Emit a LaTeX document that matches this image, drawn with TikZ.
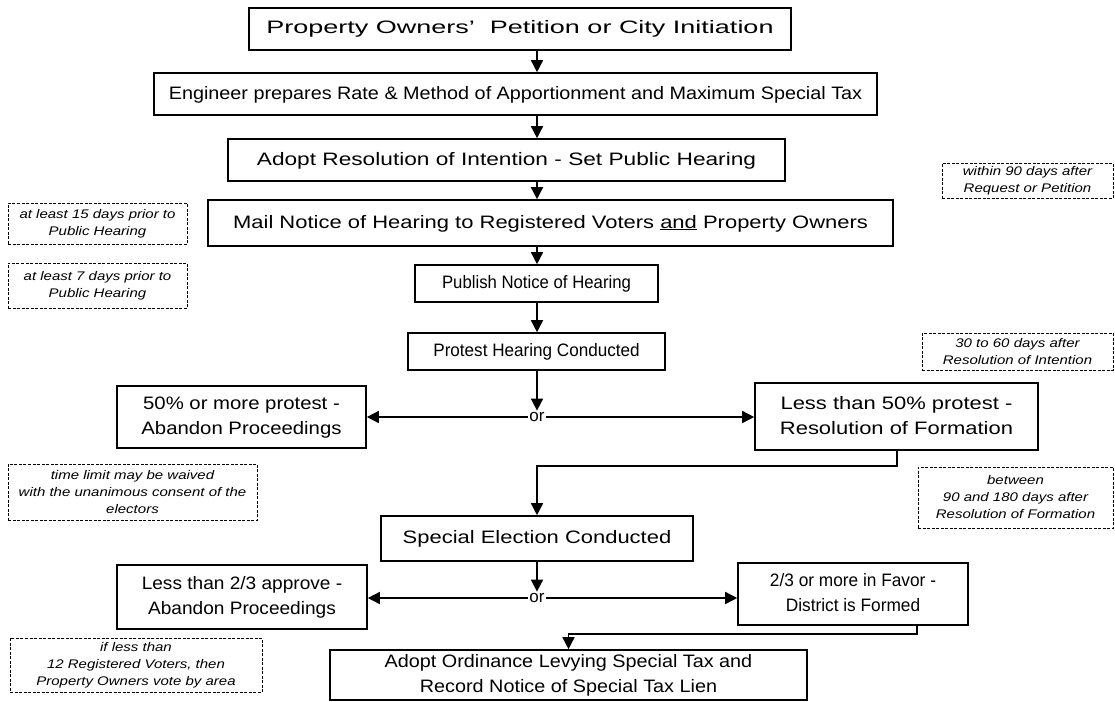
\documentclass[tikz,border=0pt]{standalone}
\usepackage{fontspec}
\usepackage{graphicx}
\setmainfont{Liberation Sans}
\newfontfamily\notefont{Liberation Sans}[FakeStretch=1.2]
\usetikzlibrary{arrows.meta}
\newcommand\sx[2]{\scalebox{#1}[1]{\begin{tabular}{@{}c@{}}#2\end{tabular}}}
\begin{document}
\begin{tikzpicture}[x=1pt,y=-1pt,
  box/.style={draw, line width=1.6pt, inner sep=0pt, align=center,
    font=\fontsize{18}{25}\selectfont},
  note/.style={draw, line width=0.6pt, dash pattern=on 3pt off 1.5pt,
    inner sep=0pt, align=center, font=\notefont\itshape\fontsize{12.5}{17}\selectfont},
  arr/.style={-{Triangle[width=12pt,length=12pt]}, line width=1.5pt},
  ortext/.style={inner sep=1.5pt, font=\fontsize{17}{18}\selectfont}]
\useasboundingbox (0,0) rectangle (1115,701);
\coordinate (sp) at (537,0);
% main boxes
\node[box, minimum width=542pt, minimum height=42pt] (b1) at (520,29) {\sx{1.5}{Property Owners'\ \ Petition or City Initiation}};
\node[box, minimum width=723pt, minimum height=42pt] (b2) at (515.5,94) {\sx{1.1}{Engineer prepares Rate \& Method of Apportionment and Maximum Special Tax}};
\node[box, minimum width=557pt, minimum height=42pt] (b3) at (506.5,160) {\sx{1.26}{Adopt Resolution of Intention - Set Public Hearing}};
\node[box, minimum width=685pt, minimum height=46pt] (b4) at (550.5,223) {\sx{1.22}{Mail Notice of Hearing to Registered Voters \underline{and} Property Owners}};
\node[box, minimum width=243pt, minimum height=37pt] (b5) at (536.5,283.5) {\sx{0.93}{Publish Notice of Hearing}};
\node[box, minimum width=257pt, minimum height=37pt] (b6) at (536.5,351.5) {\sx{0.95}{Protest Hearing Conducted}};
\node[box, minimum width=249pt, minimum height=62pt] (b7) at (241.5,417) {\sx{1.13}{50\% or more protest -\\Abandon Proceedings}};
\node[box, minimum width=283pt, minimum height=67pt] (b8) at (896.5,416.5) {\sx{1.22}{Less than 50\% protest -\\Resolution of Formation}};
\node[box, minimum width=312pt, minimum height=45pt] (b9) at (537,538.5) {\sx{1.22}{Special Election Conducted}};
\node[box, minimum width=250pt, minimum height=64pt] (b10) at (242,597) {\sx{1.06}{Less than 2/3 approve -\\Abandon Proceedings}};
\node[box, minimum width=230pt, minimum height=62pt] (b11) at (853,594) {\sx{0.96}{2/3 or more in Favor -\\District is Formed}};
\node[box, minimum width=477pt, minimum height=48pt] (b12) at (568.5,675) {\sx{1.1}{Adopt Ordinance Levying Special Tax and\\Record Notice of Special Tax Lien}};
% notes
\node[note, minimum width=171pt, minimum height=35pt] (n1) at (1027.5,180.5) {within 90 days after\\Request or Petition};
\node[note, minimum width=179pt, minimum height=41pt] (n2) at (97.5,223.5) {at least 15 days prior to\\Public Hearing};
\node[note, minimum width=179pt, minimum height=45pt] (n3) at (97.5,285.5) {at least 7 days prior to\\Public Hearing};
\node[note, minimum width=191pt, minimum height=37pt] (n4) at (1017.5,351.5) {30 to 60 days after\\Resolution of Intention};
\node[note, minimum width=249pt, minimum height=56pt] (n5) at (132.5,492) {time limit may be waived\\with the unanimous consent of the\\electors};
\node[note, minimum width=195pt, minimum height=61pt] (n6) at (1015.5,497.5) {between\\90 and 180 days after\\Resolution of Formation};
\node[note, minimum width=252pt, minimum height=54pt] (n7) at (136,665) {if less than\\12 Registered Voters, then\\Property Owners vote by area};
% or nodes
\node[ortext] (or1) at (537,417) {or};
\node[ortext] (or2) at (537,598) {or};
% spine arrows
\draw[arr] (b1.south -| sp) -- (b2.north -| sp);
\draw[arr] (b2.south -| sp) -- (b3.north -| sp);
\draw[arr] (b3.south -| sp) -- (b4.north -| sp);
\draw[arr] (b4.south -| sp) -- (b5.north -| sp);
\draw[arr] (b5.south -| sp) -- (b6.north -| sp);
\draw[arr] (b6.south -| sp) -- (or1.north);
\draw[arr] (or1.west) -- (or1 -| b7.east);
\draw[arr] (or1.east) -- (or1 -| b8.west);
\coordinate (k1) at (897,466);
\draw[arr] (b8.south -| k1) -- (k1) -- (k1 -| sp) -- (b9.north -| sp);
\draw[arr] (b9.south -| sp) -- (or2.north);
\draw[arr] (or2.west) -- (or2 -| b10.east);
\draw[arr] (or2.east) -- (or2 -| b11.west);
\coordinate (k2) at (917,634);
\draw[arr] (b11.south -| k2) -- (k2) -- (k2 -| b12.north) -- (b12.north);
\end{tikzpicture}
\end{document}
